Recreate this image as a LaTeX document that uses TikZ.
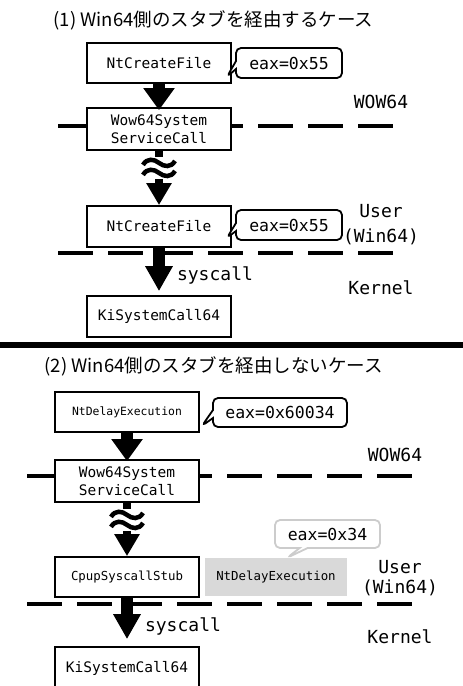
\documentclass[tikz,border=0pt]{standalone}
\usepackage{fontspec}
\newfontfamily\jpfont{Noto Sans CJK JP}
\newfontfamily\codefont{DejaVu Sans Mono}
\usetikzlibrary{arrows.meta,shapes.callouts,calc}

\tikzset{
  func/.style={draw, line width=1.8pt, fill=white, inner sep=0pt,
    minimum width=144pt, minimum height=40pt, align=center,
    font=\codefont\fontsize{14.5}{18}\selectfont},
  tag/.style={rectangle callout, draw, line width=1.8pt, rounded corners=5pt,
    fill=white, inner sep=0pt, callout pointer width=8pt,
    font=\codefont\fontsize{16.5}{18}\selectfont},
  layer/.style={align=center, font=\codefont\fontsize{18}{25}\selectfont},
  title/.style={anchor=west, font=\jpfont\fontsize{18.5}{20}\selectfont},
  boundary/.style={line width=4pt, dash pattern=on 35pt off 15pt},
  callarrow/.style={line width=12pt, -{Triangle[width=30pt,length=22pt]}},
  brkarrow/.style={line width=8pt, -{Triangle[width=24pt,length=22pt]}},
  sysarrow/.style={line width=12pt, -{Triangle[width=26pt,length=25pt]}},
  wave/.style={line width=4.5pt}
}

\begin{document}
\begin{tikzpicture}[x=1pt,y=-1pt]
  \useasboundingbox (0,0) rectangle (463,686);

  % (1) via the Win64 stub
  \node[title] (title1) at (50,20) {(1) Win64側のスタブを経由するケース};

  \draw[boundary] (58,126) -- (395,126);
  \draw[boundary] (58,253) -- (395,253);

  \node[func] (nt1) at (159,63) {NtCreateFile};
  \node[func, minimum height=42pt] (w1) at (159,129) {Wow64System\\ServiceCall};
  \node[func, minimum height=41pt] (nt2) at (159,226.5) {NtCreateFile};
  \node[func, minimum height=41pt] (ki1) at (159,316.5) {KiSystemCall64};

  \node[tag, minimum width=106pt, minimum height=30pt,
    callout absolute pointer={($(nt1.south east)+(-5,-7)$)}] (c1) at (289,63) {eax=0x55};
  \node[tag, minimum width=106pt, minimum height=30pt,
    callout absolute pointer={($(nt2.south east)+(-5,-10)$)}] (c2) at (289,225) {eax=0x55};

  \node[layer] (wow1) at (381,102) {WOW64};
  \node[layer] (user1) at (381,224.5) {User\\(Win64)};
  \node[layer] (kern1) at (381,288) {Kernel};
  \node[layer] (sys1) at (215,275) {syscall};

  \draw[callarrow] (nt1.south) -- ($(w1.north)+(0,3)$);
  \coordinate (brk1) at ($(w1.south)+(0,17)$);
  \draw[brkarrow] (w1.south) -- (nt2.north);
  \fill[white] ($(brk1)+(-7,-11)$) rectangle ($(brk1)+(7,11)$);
  \foreach \dy in {-5,5}
    \draw[wave] ($(brk1)+(-16,\dy+2)$) .. controls +(4,-7) and +(-5,-4) .. ($(brk1)+(0,\dy)$)
      .. controls +(5,4) and +(-4,7) .. ($(brk1)+(16,\dy-2)$);
  \draw[sysarrow] (nt2.south) -- ($(ki1.north)+(0,-4)$);

  % separator
  \draw[line width=6pt] (0,345) -- (463,345);

  % (2) not via the Win64 stub
  \node[title] (title2) at (41,366) {(2) Win64側のスタブを経由しないケース};

  \draw[boundary] (27,476) -- (413,476);
  \draw[boundary] (27,604) -- (413,604);

  \node[func, font=\codefont\fontsize{11.4}{14}\selectfont] (nd) at (127,412) {NtDelayExecution};
  \node[func, minimum height=42pt] (w2) at (127,481) {Wow64System\\ServiceCall};
  \node[func, font=\codefont\fontsize{12.4}{14}\selectfont] (cpup) at (127,577) {CpupSyscallStub};
  \node[func, minimum height=42pt] (ki2) at (127,668) {KiSystemCall64};

  \node[fill=black!15, inner sep=0pt, minimum width=142pt, minimum height=38pt,
    font=\codefont\fontsize{12.4}{14}\selectfont] (ndg) at (276,577) {NtDelayExecution};

  \node[tag, minimum width=134pt, minimum height=29pt,
    callout absolute pointer={($(nd.south east)+(2,-7)$)}] (c3) at (280,412.5) {eax=0x60034};
  \node[tag, draw=black!20, minimum width=105pt, minimum height=28pt,
    callout absolute pointer={($(ndg.north)+(11,0)$)}] (c4) at (327.5,534) {eax=0x34};

  \node[layer] (wow2) at (395,455) {WOW64};
  \node[layer, font=\codefont\fontsize{18}{20}\selectfont] (user2) at (400,578) {User\\(Win64)};
  \node[layer] (kern2) at (400,637) {Kernel};
  \node[layer] (sys2) at (183,626) {syscall};

  \draw[callarrow] (nd.south) -- ($(w2.north)+(0,2)$);
  \coordinate (brk2) at ($(w2.south)+(0,17)$);
  \draw[brkarrow] (w2.south) -- (cpup.north);
  \fill[white] ($(brk2)+(-7,-11)$) rectangle ($(brk2)+(7,11)$);
  \foreach \dy in {-5,5}
    \draw[wave] ($(brk2)+(-16,\dy+2)$) .. controls +(4,-7) and +(-5,-4) .. ($(brk2)+(0,\dy)$)
      .. controls +(5,4) and +(-4,7) .. ($(brk2)+(16,\dy-2)$);
  \draw[sysarrow] (cpup.south) -- ($(ki2.north)+(0,-7)$);
\end{tikzpicture}
\end{document}
